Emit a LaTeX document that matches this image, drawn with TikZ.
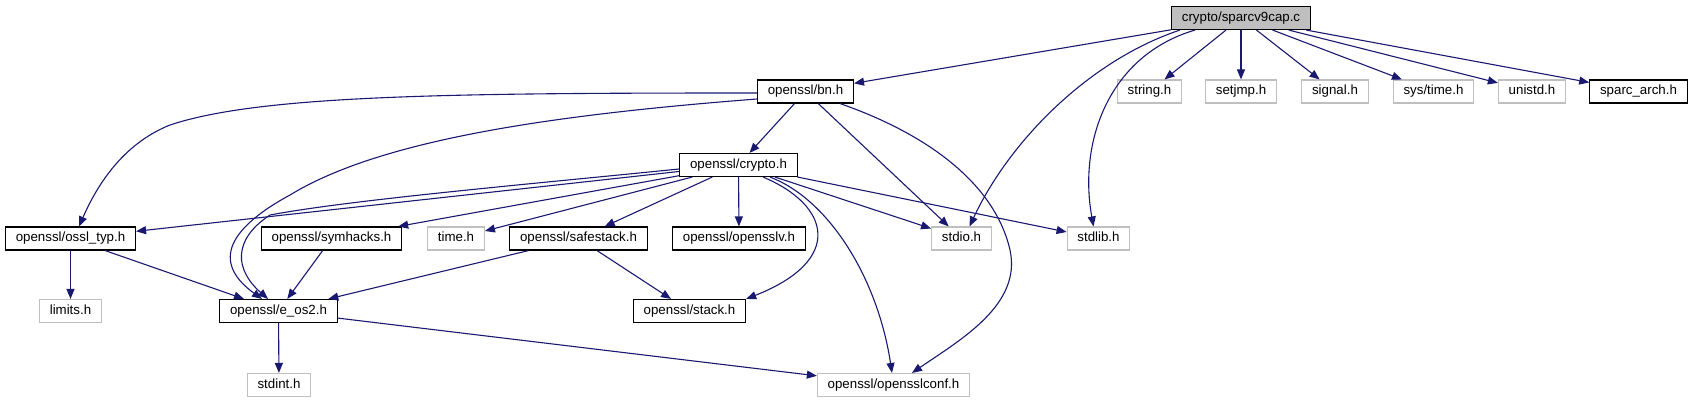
\documentclass[tikz,border=0pt]{standalone}
\usepackage{fontspec}
\setmainfont{Liberation Sans}
\usetikzlibrary{arrows.meta}
\definecolor{edgeblue}{HTML}{191970}
\definecolor{boxgray}{HTML}{BFBFBF}
\tikzset{
  file/.style={draw=black,line width=1.1pt,rectangle,inner xsep=10.3pt,inner ysep=0pt,
    minimum height=23pt,text height=10pt,text depth=3pt,font=\fontsize{13.3}{15}\selectfont},
  sysfile/.style={file,draw=boxgray},
  mainfile/.style={file,fill=boxgray},
  dep/.style={edgeblue,line width=1.1pt,-{Triangle[length=10pt,width=8pt]}}
}
\begin{document}
\begin{tikzpicture}[x=1pt,y=-1pt]
            \useasboundingbox (0,0) rectangle (1693,403);
            \node[mainfile] (sparccap) at (1241,18) {crypto/sparcv9cap.c};
            \node[file] (bnh) at (805.5,91.5) {openssl/bn.h};
            \node[sysfile] (stringh) at (1149.5,91.5) {string.h};
            \node[sysfile] (setjmph) at (1241,91.5) {setjmp.h};
            \node[sysfile] (signalh) at (1335,91.5) {signal.h};
            \node[sysfile] (systimeh) at (1433.5,91.5) {sys/time.h};
            \node[sysfile] (unistdh) at (1532,91.5) {unistd.h};
            \node[file] (sparcarch) at (1638.5,91.5) {sparc\_arch.h};
            \node[file] (cryptoh) at (738.5,165) {openssl/crypto.h};
            \node[file] (ossltyp) at (70.5,238.5) {openssl/ossl\_typ.h};
            \node[file] (symhacks) at (331.5,238.5) {openssl/symhacks.h};
            \node[sysfile] (timeh) at (456,238.5) {time.h};
            \node[file] (safestack) at (578.5,238.5) {openssl/safestack.h};
            \node[file] (opensslv) at (739,238.5) {openssl/opensslv.h};
            \node[sysfile] (stdioh) at (961.5,238.5) {stdio.h};
            \node[sysfile] (stdlibh) at (1098.5,238.5) {stdlib.h};
            \node[sysfile] (limitsh) at (70.5,311) {limits.h};
            \node[file] (eostwo) at (278.5,311) {openssl/e\_os2.h};
            \node[file] (stackh) at (689.5,311) {openssl/stack.h};
            \node[sysfile] (stdinth) at (279,385) {stdint.h};
            \node[sysfile] (sslconf) at (893.5,385) {openssl/opensslconf.h};
            \draw[dep] (sparccap) -- (bnh);
            \draw[dep] (sparccap) -- (stringh);
            \draw[dep] (sparccap) -- (setjmph);
            \draw[dep] (sparccap) -- (signalh);
            \draw[dep] (sparccap) -- (systimeh);
            \draw[dep] (sparccap) -- (unistdh);
            \draw[dep] (sparccap) -- (sparcarch);
            \draw[dep] ([xshift=9pt]sparccap.south west) .. controls (1090,60) and (1010,140) .. ([xshift=8pt]stdioh.north);
            \draw[dep] ([xshift=24pt]sparccap.south west) .. controls (1110,55) and (1078,140) .. ([xshift=-5pt]stdlibh.north);
            \draw[dep] (bnh) -- (cryptoh);
            \draw[dep] (bnh) -- (stdioh);
            \draw[dep] ([yshift=-1.5pt]bnh.west) .. controls (450,93) and (260,95) .. (170,125) .. controls (120,145) and (95,190) .. ([xshift=8.5pt]ossltyp.north);
            \draw[dep] ([yshift=-7.5pt]bnh.west) .. controls (550,115) and (380,140) .. (290,195) .. controls (222,232) and (215,265) .. ([xshift=-16.5pt]eostwo.north);
            \draw[dep] ([xshift=34.5pt]bnh.south) .. controls (930,135) and (995,185) .. (1010,250) .. controls (1022,305) and (960,340) .. ([xshift=18.5pt]sslconf.north);
            \draw[dep] (cryptoh) -- (ossltyp);
            \draw[dep] (cryptoh) -- (symhacks);
            \draw[dep] (cryptoh) -- (timeh);
            \draw[dep] (cryptoh) -- (safestack);
            \draw[dep] (cryptoh) -- (opensslv);
            \draw[dep] (cryptoh) -- (stdioh);
            \draw[dep] (cryptoh) -- (stdlibh);
            \draw[dep] ([yshift=-4pt]cryptoh.west) .. controls (520,185) and (350,200) .. (270,215) .. controls (232,240) and (235,270) .. ([xshift=-10.5pt]eostwo.north);
            \draw[dep] ([xshift=24.5pt]cryptoh.south) .. controls (830,205) and (845,260) .. (stackh.north east);
            \draw[dep] ([xshift=31.5pt]cryptoh.south) .. controls (830,200) and (878,280) .. ([xshift=-1.5pt]sslconf.north);
            \draw[dep] (ossltyp) -- (limitsh);
            \draw[dep] (ossltyp) -- (eostwo);
            \draw[dep] (symhacks) -- (eostwo);
            \draw[dep] (safestack) -- (eostwo);
            \draw[dep] (safestack) -- (stackh);
            \draw[dep] (eostwo) -- (stdinth);
            \draw[dep] (eostwo) -- (sslconf);
\end{tikzpicture}
\end{document}
